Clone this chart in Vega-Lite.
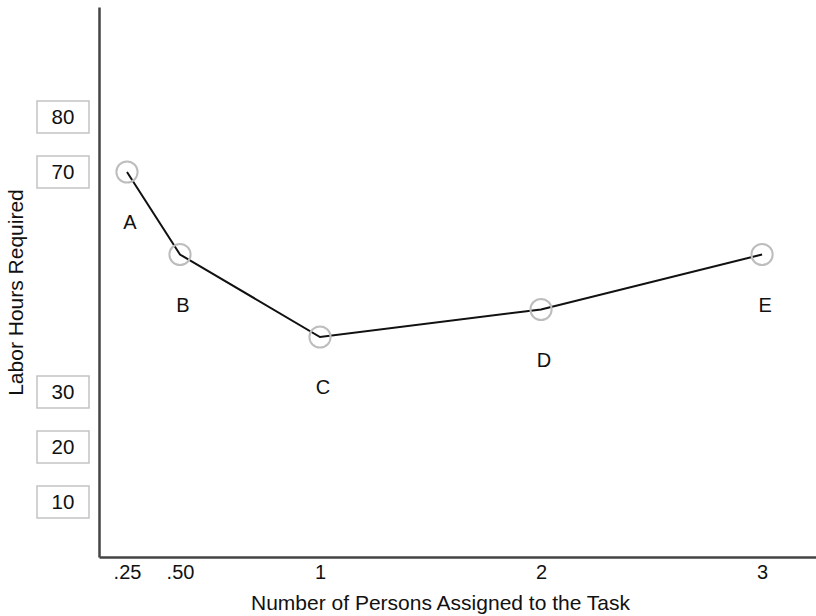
{
  "$schema": "https://vega.github.io/schema/vega-lite/v6.json",
  "autosize": "none",
  "padding": {"left": 99, "top": 7, "right": 0, "bottom": 59},
  "width": 717,
  "height": 550,
  "background": "white",
  "datasets": {
    "points": [
      {"persons": 0.25, "hours": 70, "label": "A"},
      {"persons": 0.5, "hours": 55, "label": "B"},
      {"persons": 1, "hours": 40, "label": "C"},
      {"persons": 2, "hours": 45, "label": "D"},
      {"persons": 3, "hours": 55, "label": "E"}
    ],
    "ticks": [
      {"hours": 80},
      {"hours": 70},
      {"hours": 30},
      {"hours": 20},
      {"hours": 10}
    ]
  },
  "encoding": {
    "y": {
      "field": "hours",
      "type": "quantitative",
      "scale": {"domain": [0, 100], "nice": false, "zero": false},
      "axis": {
        "title": "Labor Hours Required",
        "labels": false,
        "ticks": false,
        "grid": false,
        "domainColor": "#444",
        "domainWidth": 2.5,
        "titleFont": "Liberation Sans",
        "titleFontSize": 21,
        "titleFontWeight": "normal",
        "titleColor": "#111",
        "titlePadding": 73,
        "titleY": 285
      }
    }
  },
  "layer": [
    {
      "data": {"name": "ticks"},
      "mark": {
        "type": "point",
        "shape": "M-1,-0.62H1V0.62H-1Z",
        "size": 2704,
        "filled": true,
        "fill": "white",
        "stroke": "#c4c4c4",
        "strokeWidth": 1.5,
        "opacity": 1,
        "xOffset": -36
      },
      "encoding": {
        "x": {"datum": 0, "type": "quantitative"}
      }
    },
    {
      "data": {"name": "ticks"},
      "mark": {
        "type": "text",
        "font": "Liberation Sans",
        "fontSize": 20.5,
        "color": "#111",
        "align": "center",
        "baseline": "middle",
        "dx": -36,
        "dy": 1
      },
      "encoding": {
        "x": {"datum": 0, "type": "quantitative"},
        "text": {"field": "hours", "type": "quantitative"}
      }
    },
    {
      "data": {"name": "points"},
      "mark": {"type": "line", "color": "#111", "strokeWidth": 2},
      "encoding": {
        "x": {
          "field": "persons",
          "type": "quantitative",
          "scale": {
            "domain": [0, 0.25, 0.5, 1, 3.244],
            "range": [0, 28, 81, 221, 717],
            "nice": false,
            "zero": false
          },
          "axis": {
            "title": "Number of Persons Assigned to the Task",
            "values": [0.25, 0.5, 1, 2, 3],
            "labelExpr": "datum.value < 1 ? replace(format(datum.value, '.2f'), '0.', '.') : format(datum.value, 'd')",
            "ticks": false,
            "grid": false,
            "domainColor": "#444",
            "domainWidth": 2.5,
            "labelFont": "Liberation Sans",
            "labelFontSize": 20,
            "labelColor": "#111",
            "labelPadding": 5,
            "titleFont": "Liberation Sans",
            "titleFontSize": 21,
            "titleFontWeight": "normal",
            "titleColor": "#111",
            "titlePadding": 10,
            "titleX": 341
          }
        }
      }
    },
    {
      "data": {"name": "points"},
      "mark": {
        "type": "point",
        "shape": "circle",
        "size": 450,
        "filled": false,
        "stroke": "#bdbdbd",
        "strokeWidth": 2,
        "opacity": 1
      },
      "encoding": {
        "x": {"field": "persons", "type": "quantitative"}
      }
    },
    {
      "data": {"name": "points"},
      "mark": {
        "type": "text",
        "font": "Liberation Sans",
        "fontSize": 20,
        "color": "#111",
        "align": "center",
        "baseline": "middle",
        "dx": 3,
        "dy": 51
      },
      "encoding": {
        "x": {"field": "persons", "type": "quantitative"},
        "text": {"field": "label", "type": "nominal"}
      }
    }
  ],
  "config": {
    "view": {"stroke": null}
  }
}
